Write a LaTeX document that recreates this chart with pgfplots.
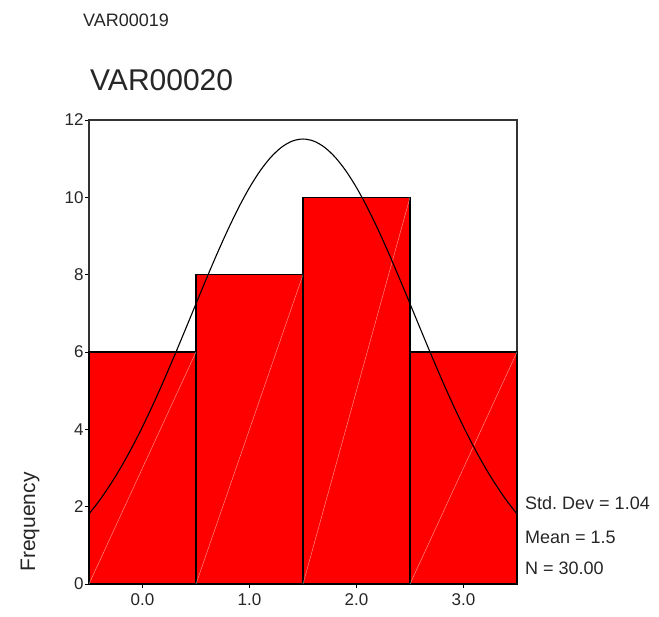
\documentclass[border=0pt]{standalone}
\usepackage{fontspec}
\setmainfont{Liberation Sans}
\usepackage{pgfplots}
\pgfplotsset{compat=1.18}
\frenchspacing
\begin{document}
\begin{tikzpicture}
\begin{axis}[name=ax, scale only axis, width=428pt, height=464pt,
  xmin=-0.5, xmax=3.5, ymin=0, ymax=12,
  xtick={0,1,2,3}, xticklabels={0.0,1.0,2.0,3.0},
  ytick={0,2,4,6,8,10,12},
  tick align=outside, major tick length=4pt,
  xtick pos=bottom, ytick pos=left,
  tick style={black, line width=0.8pt},
  ticklabel style={font=\fontsize{17}{19}\selectfont, text=black!85},
  xticklabel style={yshift=-2pt},
  yticklabel style={xshift=2pt},
  /pgf/number format/assume math mode=true,
  axis line style={black!80, line width=1.2pt},
  clip=false]
\addplot[ybar interval, fill=red, draw=black, line width=1.1pt]
  coordinates {(-0.5,6) (0.5,8) (1.5,10) (2.5,6) (3.5,6)};
\addplot[white, opacity=0.6, line width=0.4pt] coordinates {(-0.5,0) (0.5,6)};
\addplot[white, opacity=0.6, line width=0.4pt] coordinates {(0.5,0) (1.5,8)};
\addplot[white, opacity=0.6, line width=0.4pt] coordinates {(1.5,0) (2.5,10)};
\addplot[white, opacity=0.6, line width=0.4pt] coordinates {(2.5,0) (3.5,6)};
\addplot[black, line width=1.1pt, smooth] coordinates {
(-0.5,1.811) (-0.4,2.169) (-0.3,2.574) (-0.2,3.026) (-0.1,3.524) (0.0,4.067)
(0.1,4.650) (0.2,5.269) (0.3,5.914) (0.4,6.578) (0.5,7.248) (0.6,7.914)
(0.7,8.561) (0.8,9.175) (0.9,9.744) (1.0,10.252) (1.1,10.688) (1.2,11.039)
(1.3,11.297) (1.4,11.455) (1.5,11.508) (1.6,11.455) (1.7,11.297) (1.8,11.039)
(1.9,10.688) (2.0,10.252) (2.1,9.744) (2.2,9.175) (2.3,8.561) (2.4,7.914)
(2.5,7.248) (2.6,6.578) (2.7,5.914) (2.8,5.269) (2.9,4.650) (3.0,4.067)
(3.1,3.524) (3.2,3.026) (3.3,2.574) (3.4,2.169) (3.5,1.811)};
\end{axis}
\node[anchor=west, inner sep=0pt, font=\fontsize{30}{36}\selectfont, text=black!85] at ([shift={(1pt,40pt)}]ax.north west) {VAR00020};
\node[anchor=west, inner sep=0pt, font=\fontsize{18}{22}\selectfont, text=black!85] at ([shift={(-6pt,100pt)}]ax.north west) {VAR00019};
\node[rotate=90, inner sep=0pt, font=\fontsize{21}{25}\selectfont, text=black!85] at ([shift={(-59pt,62pt)}]ax.south west) {Frequency};
\node[anchor=west, inner sep=0pt, font=\fontsize{18}{21}\selectfont, text=black!85] at ([shift={(8pt,81pt)}]ax.south east) {Std. Dev = 1.04};
\node[anchor=west, inner sep=0pt, font=\fontsize{18}{21}\selectfont, text=black!85] at ([shift={(8pt,47pt)}]ax.south east) {Mean = 1.5};
\node[anchor=west, inner sep=0pt, font=\fontsize{18}{21}\selectfont, text=black!85] at ([shift={(8pt,16pt)}]ax.south east) {N = 30.00};
\path ([shift={(-89pt,-32pt)}]ax.south west) rectangle ([shift={(142pt,120pt)}]ax.north east);
\end{tikzpicture}
\end{document}
